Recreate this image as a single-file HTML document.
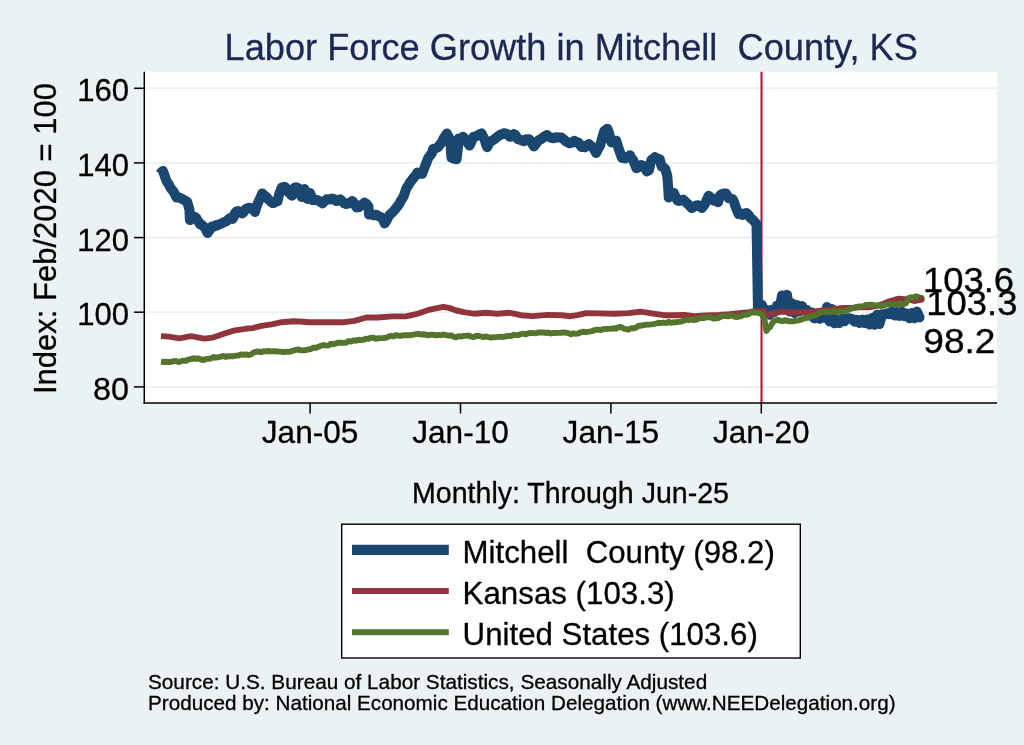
<!DOCTYPE html>
<html><head><meta charset="utf-8"><title>Labor Force Growth in Mitchell County, KS</title>
<style>
html,body{margin:0;padding:0;background:#eaf2f3;}
svg{display:block;}
text{font-family:"Liberation Sans", Arial, Helvetica, sans-serif;white-space:pre;stroke:currentColor;stroke-width:0.3px;}
</style></head>
<body>
<svg width="1024" height="745" viewBox="0 0 1024 745">
<rect x="0" y="0" width="1024" height="745" fill="#eaf2f3"/>
<rect x="144.3" y="71.7" width="852.8" height="331.3" fill="#fff"/>
<line x1="145" x2="997" y1="88.3" y2="88.3" stroke="#eaf2f3" stroke-width="2"/><line x1="145" x2="997" y1="162.9" y2="162.9" stroke="#eaf2f3" stroke-width="2"/><line x1="145" x2="997" y1="237.6" y2="237.6" stroke="#eaf2f3" stroke-width="2"/><line x1="145" x2="997" y1="312.2" y2="312.2" stroke="#eaf2f3" stroke-width="2"/><line x1="145" x2="997" y1="386.9" y2="386.9" stroke="#eaf2f3" stroke-width="2"/>
<line x1="761.5" x2="761.5" y1="71.7" y2="403" stroke="#c20532" stroke-width="2"/>
<g fill="none" stroke-linejoin="round" stroke-linecap="butt">
<path d="M160.0 174.0 L161.2 172.4 L163.0 171.0 L165.2 177.5 L167.0 182.0 L168.8 184.3 L170.0 187.0 L171.2 188.9 L173.5 191.5 L176.5 197.5 L178.8 197.2 L181.8 198.7 L183.8 199.9 L186.2 201.1 L187.2 201.9 L189.4 209.4 L189.9 220.1 L191.2 218.4 L193.8 217.5 L194.7 216.9 L196.2 217.9 L197.4 220.1 L198.8 222.1 L200.1 224.4 L201.2 224.5 L203.8 226.6 L205.5 228.7 L207.6 233.0 L208.8 231.2 L211.9 226.6 L213.8 226.8 L216.2 225.0 L217.3 225.5 L218.8 224.3 L221.2 223.8 L223.7 222.3 L226.2 221.4 L228.8 219.1 L230.2 218.0 L231.2 218.3 L232.4 219.0 L233.8 216.8 L234.8 213.5 L236.2 211.6 L238.1 211.1 L242.1 213.5 L243.8 212.1 L245.3 209.5 L246.2 208.8 L248.8 207.7 L250.1 207.9 L251.2 208.2 L253.8 210.5 L255.0 211.9 L256.6 206.3 L259.0 200.6 L261.2 196.1 L262.2 193.4 L264.6 195.8 L266.2 196.8 L268.7 199.8 L271.2 202.0 L272.7 203.0 L273.8 202.9 L276.2 201.6 L277.5 201.4 L279.2 194.2 L281.6 187.7 L283.8 187.2 L284.8 186.9 L286.2 188.3 L288.0 191.8 L292.0 195.8 L294.5 187.7 L296.2 187.3 L298.5 188.5 L301.7 197.0 L304.5 189.0 L306.2 194.3 L307.5 199.0 L308.8 196.3 L310.0 193.0 L311.2 195.9 L312.9 200.1 L316.2 199.8 L317.7 200.1 L318.8 201.0 L321.2 202.4 L322.6 203.4 L323.8 201.9 L326.6 199.3 L328.8 199.5 L331.2 199.0 L332.2 198.5 L333.8 199.0 L336.3 201.0 L338.8 200.1 L340.3 199.3 L341.2 200.3 L344.3 203.4 L346.2 204.1 L348.3 203.4 L351.2 202.1 L352.4 201.0 L353.8 202.8 L356.4 207.4 L358.8 207.3 L360.4 205.8 L364.5 202.6 L366.2 203.7 L368.5 206.6 L369.0 214.6 L371.2 214.5 L372.5 214.6 L373.8 215.3 L376.2 214.7 L377.4 215.5 L378.8 216.2 L381.0 217.3 L383.8 221.0 L384.7 223.4 L386.2 221.0 L389.5 214.9 L391.2 213.6 L393.8 210.8 L395.5 208.9 L398.8 204.7 L401.2 200.0 L402.8 198.0 L403.8 195.8 L406.4 188.3 L408.8 184.6 L410.0 182.3 L411.2 180.9 L413.8 177.6 L414.9 176.3 L416.2 174.8 L417.3 172.6 L418.8 173.8 L422.1 173.8 L423.8 169.5 L425.8 164.2 L428.2 158.1 L431.8 153.3 L433.2 148.8 L436.2 148.1 L438.1 147.2 L442.1 141.6 L443.8 138.0 L446.9 133.5 L448.8 137.2 L450.1 139.2 L451.4 157.7 L453.8 158.7 L456.6 159.3 L459.0 138.4 L461.2 138.4 L463.0 136.8 L466.3 140.8 L469.5 145.6 L471.2 142.3 L473.5 136.8 L476.7 136.0 L478.8 134.6 L481.6 133.5 L483.8 137.7 L484.8 140.0 L486.2 144.7 L487.2 147.2 L488.8 143.6 L490.4 141.6 L494.5 139.2 L496.2 137.7 L498.5 136.0 L501.2 134.2 L502.5 134.3 L503.8 133.3 L505.7 133.5 L508.8 135.2 L509.8 136.8 L511.2 136.5 L513.8 134.1 L514.7 134.3 L516.2 136.2 L517.9 139.2 L521.2 140.1 L522.7 140.8 L523.8 141.2 L526.2 139.2 L529.2 139.2 L531.2 142.2 L534.0 146.4 L536.2 143.5 L538.8 140.0 L541.2 139.3 L542.9 137.6 L546.9 135.1 L548.8 136.8 L550.9 137.6 L553.8 138.3 L555.0 137.6 L556.2 137.2 L558.8 137.4 L561.4 137.6 L563.8 139.3 L566.2 141.6 L569.5 143.2 L571.2 143.0 L574.3 140.8 L576.2 142.4 L578.3 142.4 L581.6 147.0 L583.8 146.5 L584.8 147.2 L586.2 145.5 L588.9 144.0 L591.2 145.9 L593.7 148.8 L596.1 152.9 L598.8 147.6 L600.1 145.6 L601.2 141.5 L604.2 131.1 L606.2 129.7 L607.4 128.7 L608.8 132.4 L609.8 136.0 L611.4 142.4 L613.8 140.7 L616.3 140.8 L618.7 148.8 L621.9 157.7 L623.8 158.0 L625.1 158.5 L626.2 157.5 L628.8 156.2 L630.0 155.3 L631.2 158.0 L633.2 160.1 L636.4 168.2 L638.8 167.0 L641.2 165.0 L644.5 166.6 L646.9 171.4 L648.9 170.4 L651.3 160.0 L653.8 158.2 L655.0 157.2 L656.2 157.9 L658.8 159.0 L659.7 159.1 L661.6 166.6 L663.8 167.4 L665.4 169.4 L667.3 176.0 L668.2 187.3 L668.7 197.6 L671.2 196.0 L673.8 192.9 L676.2 198.3 L677.6 200.5 L678.8 201.0 L681.2 200.4 L683.2 199.5 L687.0 203.3 L688.8 204.9 L691.7 208.0 L693.8 206.9 L696.2 205.4 L698.3 205.2 L702.0 208.0 L703.8 205.6 L705.8 202.3 L708.6 195.8 L711.2 197.7 L713.3 200.5 L716.2 200.9 L718.0 202.3 L720.0 195.4 L721.2 194.5 L723.8 193.5 L725.9 193.4 L728.8 198.3 L731.2 198.6 L732.7 199.3 L733.8 201.2 L735.7 207.1 L738.6 214.0 L741.2 213.8 L742.5 215.0 L743.8 213.7 L746.4 213.0 L748.8 215.2 L750.3 217.8 L751.2 218.4 L753.5 220.5 L756.5 224.0 L758.0 310.0 L761.0 310.5 L762.0 305.0 L764.5 312.2 L767.0 310.0 L769.5 314.8 L772.0 309.7 L774.5 312.0 L777.0 305.7 L779.5 308.8 L782.0 295.5 L784.5 308.6 L787.0 294.8 L789.5 311.5 L792.0 303.2 L794.5 313.0 L797.0 305.0 L799.5 311.5 L802.0 306.0 L804.5 310.6 L807.0 310.0 L809.5 315.4 L812.0 312.5 L814.5 318.5 L817.0 313.9 L819.5 318.7 L822.0 313.0 L824.5 317.8 L827.0 307.1 L829.5 321.4 L832.0 309.1 L834.5 323.3 L837.0 321.0 L839.5 323.1 L842.0 318.8 L844.5 321.2 L847.0 318.2 L849.5 318.3 L852.0 318.9 L854.5 321.6 L857.0 320.0 L859.5 322.9 L862.0 319.6 L864.5 323.0 L867.0 319.4 L869.5 324.6 L872.0 318.0 L874.5 324.8 L877.0 314.7 L879.5 324.1 L882.0 314.3 L884.5 314.4 L887.0 313.3 L889.5 314.2 L892.0 311.4 L894.5 315.4 L897.0 312.0 L899.5 316.0 L902.0 311.8 L904.5 316.2 L907.0 313.4 L909.5 318.2 L912.0 313.0 L914.5 318.2 L917.0 311.6 L919.5 317.5" stroke="#1a476f" stroke-width="10"/>
<path d="M161.0 336.1 L169.0 336.6 L179.3 338.3 L191.0 336.1 L204.2 338.6 L213.0 337.6 L223.2 333.9 L235.0 330.3 L245.2 328.8 L252.5 328.1 L261.3 325.9 L271.6 324.4 L281.8 322.2 L293.5 321.3 L300.0 321.5 L309.0 322.2 L326.6 322.2 L344.2 322.2 L354.5 320.8 L366.2 317.5 L377.9 317.5 L392.5 316.4 L405.7 316.4 L416.0 314.2 L427.7 310.2 L435.9 308.3 L443.2 306.8 L449.0 307.9 L456.4 310.5 L465.2 312.3 L473.9 313.7 L485.7 312.7 L497.4 313.7 L509.1 312.7 L520.8 315.2 L532.5 316.1 L547.2 314.9 L561.8 315.2 L570.3 316.2 L577.3 315.2 L586.1 313.1 L599.3 313.4 L614.0 313.7 L628.6 313.1 L640.3 311.7 L652.0 313.4 L663.7 315.2 L672.5 315.2 L684.3 315.0 L694.5 316.3 L704.8 315.5 L719.5 315.0 L729.3 314.3 L739.0 313.3 L748.8 312.2 L754.7 311.2 L760.5 311.5 L764.5 311.2 L767.0 315.5 L770.6 314.0 L776.5 312.6 L783.0 311.5 L792.8 312.6 L803.8 312.1 L813.6 311.6 L823.4 310.2 L833.1 309.2 L842.9 308.0 L852.7 307.8 L859.5 307.3 L869.3 307.3 L879.0 305.4 L888.8 301.5 L898.6 298.6 L908.4 299.5 L914.2 301.0 L921.0 299.5" stroke="#90353b" stroke-width="5.9"/>
<path d="M161.0 361.6 L163.5 362.0 L166.0 361.7 L168.5 362.0 L171.0 362.0 L173.5 361.1 L176.0 361.0 L178.5 362.1 L181.0 361.2 L183.5 360.7 L186.0 360.9 L188.5 359.4 L191.0 359.1 L193.5 358.2 L196.0 358.8 L198.5 358.5 L201.0 359.5 L203.5 360.0 L206.0 359.0 L208.5 358.9 L211.0 358.3 L213.5 357.0 L216.0 357.7 L218.5 357.2 L221.0 356.6 L223.5 355.9 L226.0 356.9 L228.5 356.1 L231.0 356.3 L233.5 356.2 L236.0 355.6 L238.5 355.5 L241.0 354.4 L243.5 354.9 L246.0 354.4 L248.5 355.1 L251.0 354.5 L253.5 352.5 L256.0 351.7 L258.5 351.5 L261.0 352.3 L263.5 351.2 L266.0 351.4 L268.5 351.0 L271.0 351.4 L273.5 351.3 L276.0 351.3 L278.5 351.6 L281.0 351.6 L283.5 352.1 L286.0 351.7 L288.5 351.9 L291.0 351.3 L293.5 350.6 L296.0 349.7 L298.5 349.5 L301.0 350.4 L303.5 350.3 L306.0 350.1 L308.5 349.4 L311.0 349.0 L313.5 347.6 L316.0 347.8 L318.5 346.7 L321.0 345.8 L323.5 345.0 L326.0 345.6 L328.5 345.4 L331.0 343.6 L333.5 344.3 L336.0 343.4 L338.5 342.7 L341.0 342.6 L343.5 342.9 L346.0 342.7 L348.5 341.1 L351.0 341.5 L353.5 340.3 L356.0 340.8 L358.5 339.8 L361.0 340.1 L363.5 339.8 L366.0 338.7 L368.5 338.9 L371.0 337.6 L373.5 337.7 L376.0 338.8 L378.5 338.2 L381.0 338.1 L383.5 338.0 L386.0 337.8 L388.5 336.6 L391.0 335.8 L393.5 336.4 L396.0 335.0 L398.5 335.8 L401.0 335.8 L403.5 335.1 L406.0 335.3 L408.5 335.2 L411.0 335.0 L413.5 334.6 L416.0 334.1 L418.5 333.8 L421.0 334.5 L423.5 334.3 L426.0 334.6 L428.5 335.4 L431.0 334.7 L433.5 334.7 L436.0 335.5 L438.5 334.9 L441.0 335.1 L443.5 334.5 L446.0 335.2 L448.5 335.7 L451.0 335.3 L453.5 336.7 L456.0 337.3 L458.5 336.2 L461.0 336.6 L463.5 335.9 L466.0 335.8 L468.5 335.6 L471.0 336.6 L473.5 337.2 L476.0 336.0 L478.5 335.9 L481.0 336.5 L483.5 337.1 L486.0 336.4 L488.5 337.1 L491.0 337.7 L493.5 337.2 L496.0 337.1 L498.5 336.9 L501.0 336.8 L503.5 337.0 L506.0 336.2 L508.5 335.9 L511.0 336.1 L513.5 334.7 L516.0 335.1 L518.5 335.0 L521.0 334.1 L523.5 333.7 L526.0 334.3 L528.5 333.2 L531.0 332.9 L533.5 333.1 L536.0 333.3 L538.5 332.4 L541.0 332.5 L543.5 332.4 L546.0 333.0 L548.5 332.6 L551.0 333.5 L553.5 332.9 L556.0 333.0 L558.5 332.9 L561.0 332.7 L563.5 332.4 L566.0 332.7 L568.5 333.1 L571.0 334.2 L573.5 333.3 L576.0 333.8 L578.5 333.4 L581.0 332.1 L583.5 331.8 L586.0 332.1 L588.5 331.6 L591.0 331.4 L593.5 330.4 L596.0 329.8 L598.5 329.6 L601.0 330.1 L603.5 329.1 L606.0 329.0 L608.5 328.9 L611.0 328.7 L613.5 328.3 L616.0 328.6 L618.5 327.1 L621.0 326.9 L623.5 328.7 L626.0 329.1 L628.5 329.7 L631.0 328.3 L633.5 328.3 L636.0 327.6 L638.5 325.8 L641.0 325.7 L643.5 325.1 L646.0 324.6 L648.5 324.6 L651.0 324.4 L653.5 324.1 L656.0 323.5 L658.5 322.8 L661.0 323.1 L663.5 322.5 L666.0 323.1 L668.5 321.8 L671.0 322.9 L673.5 322.3 L676.0 322.3 L678.5 321.9 L681.0 321.6 L683.5 320.8 L686.0 319.6 L688.5 320.2 L691.0 319.5 L693.5 320.1 L696.0 319.8 L698.5 318.8 L701.0 317.8 L703.5 318.1 L706.0 317.5 L708.5 317.1 L711.0 317.4 L713.5 318.7 L716.0 318.3 L718.5 318.0 L721.0 316.6 L723.5 315.7 L726.0 316.0 L728.5 316.2 L731.0 315.2 L733.5 316.4 L736.0 317.0 L738.5 316.7 L741.0 316.3 L743.5 314.6 L746.0 314.8 L748.5 314.4 L751.0 312.5 L753.5 312.5 L756.0 312.2 L758.5 313.0 L761.0 313.6 L761.5 313.9 L763.5 317.3 L764.5 319.0 L766.0 329.4 L766.3 331.0 L768.5 328.0 L770.3 326.9 L771.0 325.2 L773.5 321.5 L774.2 321.0 L776.0 320.3 L778.5 320.0 L781.0 321.0 L783.5 320.8 L786.0 320.1 L788.5 321.2 L791.0 321.3 L793.5 321.4 L796.0 320.7 L798.5 320.4 L801.0 319.7 L803.5 318.8 L806.0 318.0 L808.5 317.5 L811.0 316.2 L813.5 315.8 L816.0 315.1 L818.5 313.7 L821.0 312.3 L823.5 311.5 L826.0 311.7 L828.5 311.9 L831.0 312.1 L833.5 311.4 L836.0 312.0 L838.5 311.7 L841.0 311.4 L843.5 311.1 L846.0 310.5 L848.5 309.9 L851.0 308.6 L853.5 308.2 L856.0 307.2 L858.5 306.5 L861.0 306.4 L863.5 306.2 L866.0 304.9 L868.5 305.0 L871.0 304.6 L873.5 305.0 L876.0 305.6 L878.5 305.3 L881.0 306.0 L883.5 305.5 L886.0 304.6 L888.5 304.6 L891.0 303.8 L893.5 304.6 L896.0 304.1 L898.5 304.2 L901.0 304.2 L903.5 304.1 L906.0 303.2 L908.5 298.3 L911.0 297.2 L913.5 297.5 L916.0 296.3 L918.5 297.1 L921.0 298.2" stroke="#55752f" stroke-width="5.9"/>
</g>
<circle cx="919.5" cy="317.5" r="5" fill="#1a476f"/>
<circle cx="921" cy="298.4" r="3.6" fill="#1a9a1a"/>
<circle cx="921.2" cy="299.4" r="3.2" fill="#90353b"/>
<line x1="144.3" x2="144.3" y1="71.7" y2="403.7" stroke="#000" stroke-width="1.5"/>
<line x1="143.6" x2="997.1" y1="403.05" y2="403.05" stroke="#000" stroke-width="1.5"/>
<line x1="134" x2="144.3" y1="88.3" y2="88.3" stroke="#000" stroke-width="1.5"/><line x1="134" x2="144.3" y1="162.9" y2="162.9" stroke="#000" stroke-width="1.5"/><line x1="134" x2="144.3" y1="237.6" y2="237.6" stroke="#000" stroke-width="1.5"/><line x1="134" x2="144.3" y1="312.2" y2="312.2" stroke="#000" stroke-width="1.5"/><line x1="134" x2="144.3" y1="386.9" y2="386.9" stroke="#000" stroke-width="1.5"/><line x1="310.1" x2="310.1" y1="403" y2="413.5" stroke="#000" stroke-width="1.5"/><line x1="460.5" x2="460.5" y1="403" y2="413.5" stroke="#000" stroke-width="1.5"/><line x1="610.9" x2="610.9" y1="403" y2="413.5" stroke="#000" stroke-width="1.5"/><line x1="761.3" x2="761.3" y1="403" y2="413.5" stroke="#000" stroke-width="1.5"/>
<g fill="#000" color="#000">
<text x="129.1" y="101.2" text-anchor="end" font-size="31.6" textLength="51.8" lengthAdjust="spacingAndGlyphs">160</text><text x="129.1" y="175.8" text-anchor="end" font-size="31.6" textLength="51.8" lengthAdjust="spacingAndGlyphs">140</text><text x="129.1" y="250.5" text-anchor="end" font-size="31.6" textLength="51.8" lengthAdjust="spacingAndGlyphs">120</text><text x="129.1" y="325.1" text-anchor="end" font-size="31.6" textLength="51.8" lengthAdjust="spacingAndGlyphs">100</text><text x="129.1" y="399.8" text-anchor="end" font-size="31.6" textLength="36.0" lengthAdjust="spacingAndGlyphs">80</text>
<text x="310.1" y="443.1" text-anchor="middle" font-size="31.6">Jan-05</text><text x="460.5" y="443.1" text-anchor="middle" font-size="31.6">Jan-10</text><text x="610.9" y="443.1" text-anchor="middle" font-size="31.6">Jan-15</text><text x="761.3" y="443.1" text-anchor="middle" font-size="31.6">Jan-20</text>
<text transform="translate(56,238.5) rotate(-90)" text-anchor="middle" font-size="31.6" textLength="311" lengthAdjust="spacingAndGlyphs">Index: Feb/2020 = 100</text>
<text x="570.5" y="503" text-anchor="middle" font-size="29.2" textLength="317" lengthAdjust="spacingAndGlyphs">Monthly: Through Jun-25</text>
<text x="923.1" y="292" font-size="35.5" textLength="91" lengthAdjust="spacingAndGlyphs">103.6</text>
<text x="926.2" y="314.8" font-size="35.5" textLength="91.3" lengthAdjust="spacingAndGlyphs">103.3</text>
<text x="923.3" y="352.7" font-size="35.5" textLength="72.2" lengthAdjust="spacingAndGlyphs">98.2</text>
</g>
<text x="571.2" y="60" text-anchor="middle" font-size="36.3" fill="#1c2852" color="#1c2852" textLength="693.4" lengthAdjust="spacingAndGlyphs">Labor Force Growth in Mitchell  County, KS</text>
<rect x="341.7" y="524.2" width="458.6" height="133.8" fill="#fff" stroke="#000" stroke-width="1.4"/>
<line x1="352" x2="448.8" y1="549.8" y2="549.8" stroke="#1a476f" stroke-width="10.3"/>
<line x1="352" x2="448.8" y1="591" y2="591" stroke="#90353b" stroke-width="5.9"/>
<line x1="352" x2="448.8" y1="632.3" y2="632.3" stroke="#55752f" stroke-width="5.9"/>
<g fill="#000" color="#000" font-size="31.6">
<text x="462.6" y="563.1" textLength="312.2" lengthAdjust="spacingAndGlyphs">Mitchell  County (98.2)</text>
<text x="462.6" y="604.3" textLength="212.1" lengthAdjust="spacingAndGlyphs">Kansas (103.3)</text>
<text x="462.6" y="645.4" textLength="295.2" lengthAdjust="spacingAndGlyphs">United States (103.6)</text>
</g>
<g fill="#000" color="#000" font-size="20.2">
<text x="148" y="688.6" textLength="559.2" lengthAdjust="spacingAndGlyphs">Source: U.S. Bureau of Labor Statistics, Seasonally Adjusted</text>
<text x="148" y="709.6" textLength="747.6" lengthAdjust="spacingAndGlyphs">Produced by: National Economic Education Delegation (www.NEEDelegation.org)</text>
</g>
</svg>
</body></html>
